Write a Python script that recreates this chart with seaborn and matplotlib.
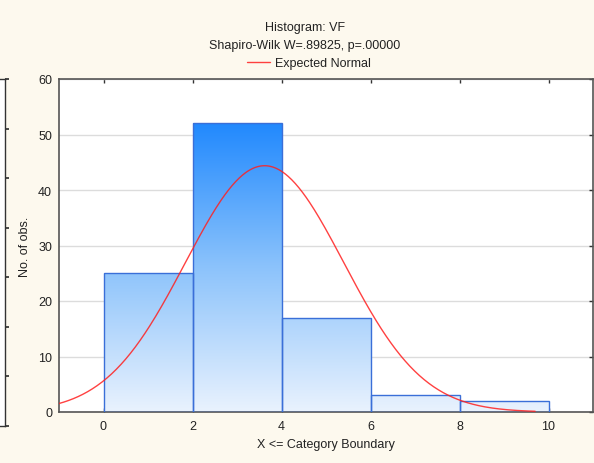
import numpy as np
import matplotlib
matplotlib.use("Agg")
import matplotlib.pyplot as plt
import seaborn as sns
from matplotlib.colors import LinearSegmentedColormap

# histogram counts per category (upper boundary 2, 4, ..., 10)
bin_edges = [0, 2, 4, 6, 8, 10]
counts = [25, 52, 17, 3, 2]
bin_mids = [1, 3, 5, 7, 9]

# expected normal
norm_mean = 3.62
norm_sd = 1.78
n_obs = 99

title_lines = ["Histogram: VF", "Shapiro-Wilk W=.89825, p=.00000"]

sns.set_theme(style="white")
plt.rcParams["font.family"] = ["Liberation Sans", "DejaVu Sans"]

bg = "#fdf9ee"
fig = plt.figure(figsize=(5.94, 4.64), dpi=100, facecolor=bg)
ax = fig.add_axes([59 / 594, 51 / 464, 534 / 594, 333 / 464])
ax.set_facecolor("white")

sns.histplot(x=bin_mids, weights=counts, bins=bin_edges, ax=ax,
             stat="count", element="bars", fill=True,
             color="#3a6fd8", edgecolor="#3a6fd8", linewidth=1.0, alpha=1)

# gradient fill, same scale for all bars (dark at top of tallest bar)
cmap = LinearSegmentedColormap.from_list("blu", ["#e9f2fe", "#8cc3fb", "#2189fe"])
grad = np.linspace(0, 1, 256).reshape(-1, 1)
ymax = max(counts)
for p in list(ax.patches):
    p.set_facecolor("none")
    p.set_edgecolor("#3a6fd8")
    p.set_zorder(3)
    im = ax.imshow(grad, cmap=cmap, origin="lower", aspect="auto",
                   extent=(-1, 11, 0, ymax), zorder=2)
    im.set_clip_path(p)

xs = np.linspace(-1, 9.7, 400)
ys = n_obs * 2 / (norm_sd * np.sqrt(2 * np.pi)) * np.exp(-0.5 * ((xs - norm_mean) / norm_sd) ** 2)
sns.lineplot(x=xs, y=ys, ax=ax, color="#ff2020", linewidth=1.0, alpha=0.85,
             zorder=4, label="Expected Normal", legend=False)

ax.set_xlim(-1, 11)
ax.set_ylim(0, 60)
ax.set_xticks([0, 2, 4, 6, 8, 10])
ax.set_yticks([0, 10, 20, 30, 40, 50, 60])
ax.yaxis.grid(True, color="#dcdcdc", linewidth=1.0, zorder=0)
ax.set_axisbelow(True)
ax.tick_params(axis="both", direction="in", length=3, width=1, color="#333333",
               labelsize=9, colors="#222222", pad=6,
               top=True, right=True, bottom=True, left=False)
ax.tick_params(axis="y", pad=5)
for s in ax.spines.values():
    s.set_color("#555555")
    s.set_linewidth(1.2)
ax.set_xlabel("X <= Category Boundary", fontsize=9, color="#222222", labelpad=4)
ax.set_ylabel("No. of obs.", fontsize=9, color="#222222", labelpad=5)

fig.text(305 / 594, 1 - 28 / 464, title_lines[0], ha="center", va="center",
         fontsize=9, color="#222222")
fig.text(305 / 594, 1 - 46 / 464, title_lines[1], ha="center", va="center",
         fontsize=9, color="#222222")
fig.legend(loc="center", bbox_to_anchor=(309 / 594, 1 - 64 / 464), frameon=False,
           fontsize=9, handlelength=1.9, handletextpad=0.4, borderaxespad=0,
           labelcolor="#222222")

# edge of neighbouring panel on the left
side = fig.add_axes([-0.05, 37 / 464, 0.058, 347 / 464])
side.set_facecolor("white")
side.set_xticks([])
side.set_yticks(np.linspace(0, 1, 8))
side.yaxis.tick_right()
side.tick_params(axis="y", direction="out", length=3, labelright=False, color="#333333")
side.set_ylim(0, 1)
for s in side.spines.values():
    s.set_color("#333333")
    s.set_linewidth(1)

fig.savefig("out.png", dpi=100, facecolor=bg)
